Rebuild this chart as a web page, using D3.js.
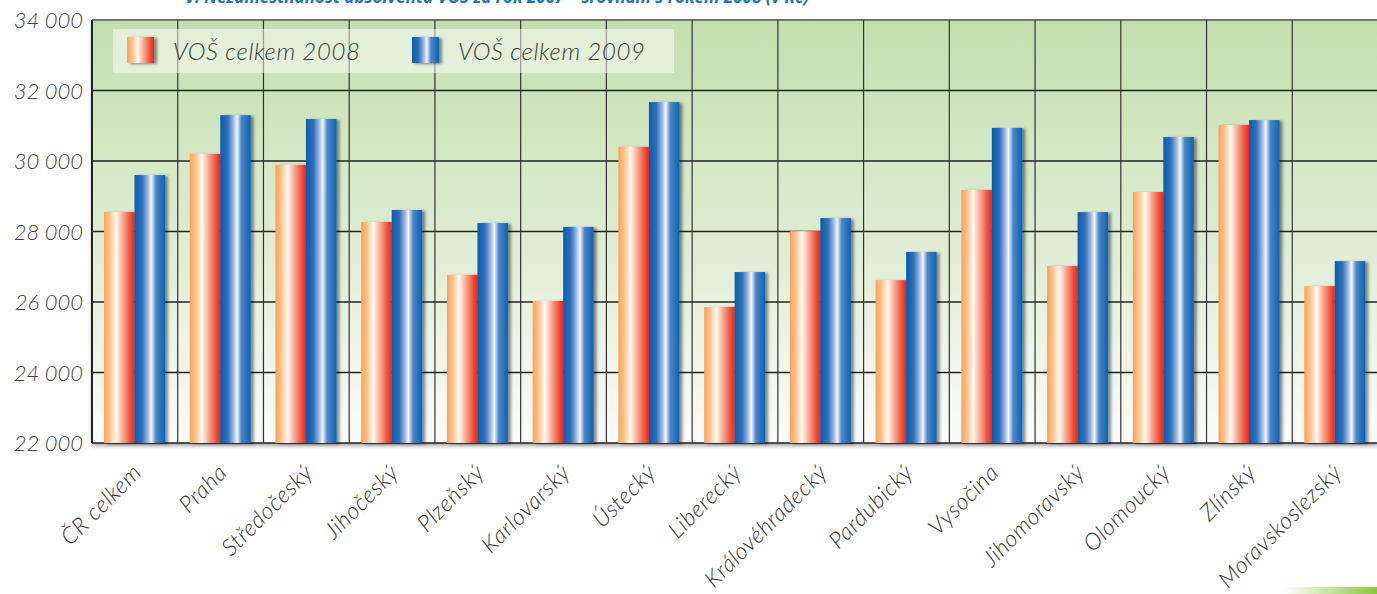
<!DOCTYPE html>
<html><head><meta charset="utf-8">
<script src="https://cdn.jsdelivr.net/npm/d3@7"></script>
<style>
html,body{margin:0;padding:0;background:#fff;overflow:hidden}
text{font-family:Lato,"Open Sans",sans-serif;font-style:italic;font-weight:300}
</style></head><body>
<svg id="c" width="1377" height="594"></svg>
<script>
const categories = ["ČR celkem","Praha","Středočeský","Jihočeský","Plzeňský","Karlovarský","Ústecký","Liberecký","Královéhradecký","Pardubický","Vysočina","Jihomoravský","Olomoucký","Zlínský","Moravskoslezský"];
const seriesNames = ["VOŠ celkem 2008","VOŠ celkem 2009"];
const values2008 = [28550,30200,29890,28270,26770,26030,30400,25860,28010,26620,29180,27020,29120,31020,26450];
const values2009 = [29600,31300,31190,28610,28240,28130,31670,26850,28380,27420,30940,28550,30680,31160,27160];
const yTicks = [22000,24000,26000,28000,30000,32000,34000];
const titleText = "V. Nezaměstnanost absolventů VOŠ za rok 2007 – srovnání s rokem 2008 (v Kč)";

const svg = d3.select("#c");
const L = 92, R = 1378, T = 20, B = 443;
const x0 = d3.scaleBand().domain(categories).range([L, R]).padding(0);
const x1 = d3.scaleBand().domain(seriesNames).range([12, 73]).padding(0);
const y = d3.scaleLinear().domain([22000, 34000]).range([B, T]);
const fmt = v => d3.format(",")(v).replace(",", " ");

const defs = svg.append("defs");
const bg = defs.append("linearGradient").attr("id","bg").attr("x1",0).attr("y1",0).attr("x2",0).attr("y2",1);
bg.append("stop").attr("offset","0%").attr("stop-color","#c3dfae");
bg.append("stop").attr("offset","55%").attr("stop-color","#e0edd5");
bg.append("stop").attr("offset","100%").attr("stop-color","#fbfcfa");
const g1 = defs.append("linearGradient").attr("id","gO").attr("x1",0).attr("x2",1).attr("y1",0).attr("y2",0);
[["0%","#f9a257"],["20%","#fcc48f"],["40%","#fffaf2"],["60%","#f7b09a"],["85%","#f0533a"],["100%","#e8261c"]].forEach(s=>g1.append("stop").attr("offset",s[0]).attr("stop-color",s[1]));
const g2 = defs.append("linearGradient").attr("id","gB").attr("x1",0).attr("x2",1).attr("y1",0).attr("y2",0);
[["0%","#0a5cae"],["25%","#2f70bb"],["45%","#a8bfe3"],["55%","#f5f7fc"],["70%","#4b86c8"],["100%","#0b63b3"]].forEach(s=>g2.append("stop").attr("offset",s[0]).attr("stop-color",s[1]));
const gg = defs.append("linearGradient").attr("id","gG").attr("x1",0).attr("x2",1);
gg.append("stop").attr("offset","0%").attr("stop-color","#ffffff");
gg.append("stop").attr("offset","100%").attr("stop-color","#8cc63e");
const sh = defs.append("filter").attr("id","sh").attr("x","-20%").attr("y","-10%").attr("width","160%").attr("height","130%");
sh.append("feDropShadow").attr("dx",3).attr("dy",1).attr("stdDeviation",1.6).attr("flood-color","#000").attr("flood-opacity",0.45);
const sh2 = defs.append("filter").attr("id","sh2").attr("x","-5%").attr("y","-50%").attr("width","110%").attr("height","300%");
sh2.append("feDropShadow").attr("dx",0).attr("dy",3).attr("stdDeviation",2).attr("flood-color","#000").attr("flood-opacity",0.35);

// title (cut off at top, as in the reference)
svg.append("text").attr("x",185).attr("y",3).attr("fill","#1a75c2")
  .style("font-family","'Open Sans',sans-serif").style("font-weight",700).style("font-style","italic")
  .style("font-size","17px").text(titleText);

// plot background
svg.append("rect").attr("x",L).attr("y",T).attr("width",R-L).attr("height",B-T).attr("fill","url(#bg)").attr("filter","url(#sh2)");

// gridlines
svg.append("g").selectAll("line").data(yTicks).join("line")
  .attr("x1",L).attr("x2",R).attr("y1",d=>y(d)).attr("y2",d=>y(d))
  .attr("stroke",d=>d===34000?"#777":"#222").attr("stroke-width",d=>d===34000?2:1.3);
svg.append("g").selectAll("line").data(categories.slice(1)).join("line")
  .attr("x1",d=>x0(d)).attr("x2",d=>x0(d)).attr("y1",T).attr("y2",B)
  .attr("stroke","#333").attr("stroke-width",1.2);

// legend
const lg = svg.append("g");
lg.append("rect").attr("x",113).attr("y",29).attr("width",561).attr("height",44).attr("fill","#fff").attr("opacity",0.5);
seriesNames.forEach((s,i)=>{
  const lx = 127 + i*285;
  lg.append("rect").attr("x",lx).attr("y",37).attr("width",27).attr("height",26)
    .attr("fill",i?"url(#gB)":"url(#gO)").attr("filter","url(#sh)");
  lg.append("text").attr("x",lx+46).attr("y",60).attr("fill","#3a3a3a").style("font-size","24px")
    .style("letter-spacing","0.6px").text(s);
});

// bars
const data = categories.map((c,i)=>({c, vals:[values2008[i],values2009[i]]}));
const grp = svg.append("g").selectAll("g").data(data).join("g").attr("transform",d=>`translate(${x0(d.c)},0)`);
grp.selectAll("rect").data(d=>d.vals.map((v,j)=>({s:seriesNames[j],v,j}))).join("rect")
  .attr("x",d=>x1(d.s)).attr("width",x1.bandwidth()).attr("y",d=>y(d.v)).attr("height",d=>B-y(d.v))
  .attr("fill",d=>d.j?"url(#gB)":"url(#gO)").attr("filter","url(#sh)");

// axes
svg.append("line").attr("x1",L).attr("x2",R).attr("y1",B).attr("y2",B).attr("stroke","#222").attr("stroke-width",2).attr("filter","url(#sh2)");
svg.append("line").attr("x1",L).attr("x2",L).attr("y1",T).attr("y2",B).attr("stroke","#222").attr("stroke-width",2);

const yAxis = d3.axisLeft(y).tickValues(yTicks).tickFormat(fmt).tickSize(0).tickPadding(9);
const ya = svg.append("g").attr("transform",`translate(${L},0)`).call(yAxis);
ya.select(".domain").remove();
ya.selectAll("text").attr("fill","#444").style("font-size","22px").style("font-family","Lato,sans-serif").attr("dy","0.35em");

const xAxis = d3.axisBottom(x0).tickSize(0).tickPadding(0);
const xa = svg.append("g").attr("transform",`translate(0,${B})`).call(xAxis);
xa.select(".domain").remove();
xa.selectAll("text").attr("fill","#333").style("font-size","23px").style("font-family","Lato,sans-serif")
  .style("letter-spacing","0.6px")
  .attr("text-anchor","end").attr("dy",0).attr("y",0)
  .attr("transform","translate(8,31) rotate(-45)");

// decorative bottom-right bar
svg.append("rect").attr("x",1284).attr("y",587).attr("width",93).attr("height",7).attr("fill","url(#gG)");
</script></body></html>
